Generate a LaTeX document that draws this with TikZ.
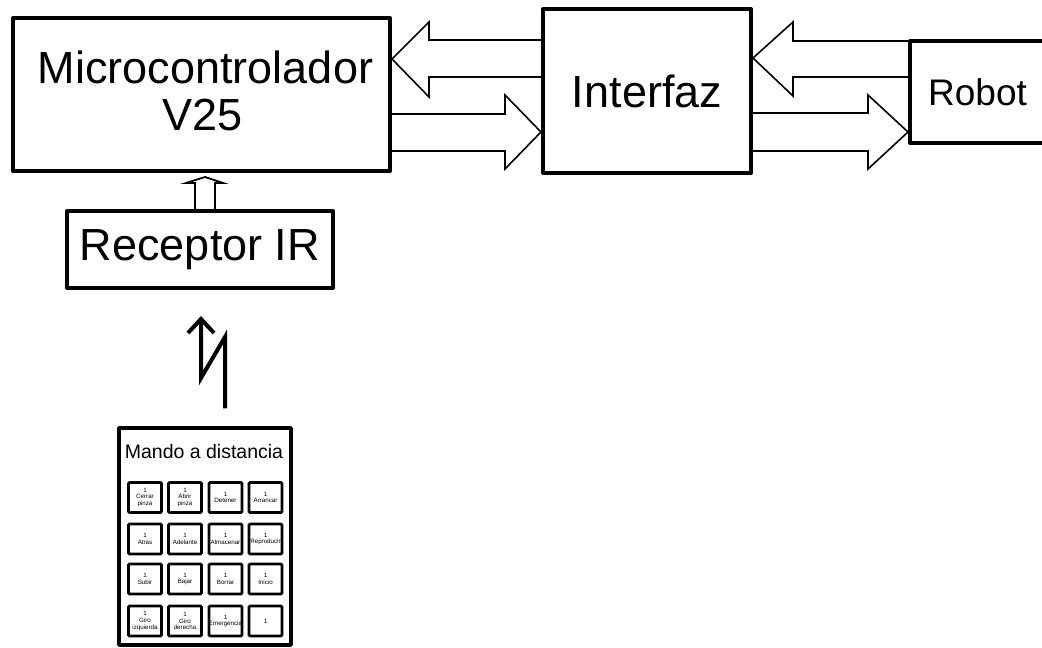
\documentclass[tikz,border=0pt]{standalone}
\usepackage{fontspec}
\setmainfont{Liberation Sans}
\usetikzlibrary{calc}
\begin{document}
\begin{tikzpicture}[x=1pt,y=-1pt,
  box/.style={draw, line width=4pt, line join=round, inner sep=0pt, align=center, font=\fontsize{45}{47}\selectfont},
  blk/.style={draw, line width=1.6pt, line join=miter},
  key/.style={draw, line width=2.8pt, rounded corners=1.2pt, minimum width=33pt, minimum height=30pt, inner sep=0pt, align=center, font=\fontsize{6.2}{6.6}\selectfont},
  bolt/.style={draw, line width=4pt, line join=miter}]
\clip (0,0) rectangle (1042,648);
% main blocks
\node[box, minimum width=377pt, minimum height=153pt] (mc) at (201.5,94.5) {};
\node[anchor=base, inner sep=0pt, font=\fontsize{45}{47}\selectfont] at ($(mc.center)+(4,-11)$) {Microcontrolador};
\node[anchor=base, inner sep=0pt, font=\fontsize{45}{47}\selectfont] at ($(mc.center)+(1,36)$) {V25};
\node[box, minimum width=208pt, minimum height=164pt] (intf) at (647,91) {Interfaz};
\node[box, minimum width=135pt, minimum height=102pt, font=\fontsize{37}{40}\selectfont] (robot) at (977.5,92) {Robot};
\node[box, minimum width=266pt, minimum height=77pt] (rec) at (200,249.5) {Receptor IR};
% block arrows Micro <-> Interfaz
\draw[blk] (intf.west |- 0,40) -- (429,40) -- (429,22) -- (mc.east |- 0,59) -- (429,97) -- (429,77) -- (intf.west |- 0,77);
\draw[blk] (mc.east |- 0,114) -- (505,114) -- (505,95) -- (intf.west |- 0,132) -- (505,169) -- (505,151) -- (mc.east |- 0,151);
% block arrows Interfaz <-> Robot
\draw[blk] (robot.west |- 0,41) -- (793,41) -- (793,22) -- (intf.east |- 0,58) -- (793,96) -- (793,77) -- (robot.west |- 0,77);
\draw[blk] (intf.east |- 0,113) -- (868,113) -- (868,95) -- (robot.west |- 0,132) -- (868,169) -- (868,151) -- (intf.east |- 0,151);
% small arrow Receptor -> Micro
\coordinate (st) at ($(mc.south -| 205,0)+(0,4)$);
\draw[line width=1.8pt, line join=miter] (rec.north -| 195,0) -- (195,183) -- (186,183) -- (st) -- (223,183) -- (215,183) -- (rec.north -| 215,0);
% keypad
\node[draw, line width=3.5pt, line join=round, minimum width=172pt, minimum height=217pt, inner sep=0pt] (kp) at (205,536.5) {};
\node[anchor=base, inner sep=0pt, font=\fontsize{19.5}{20}\selectfont] (kpt) at (204,458) {Mando a distancia};
\node[key] (k11) at (145,497.5) {1\\Cerrar\\pinza};
\node[key] (k12) at (185,497.5) {1\\Abrir\\pinza};
\node[key] (k13) at (225.5,497.5) {1\\Detener};
\node[key] (k14) at (265.5,497.5) {1\\Arrancar};
\node[key] (k21) at (145,539) {1\\Atras};
\node[key] (k22) at (185,539) {1\\Adelante};
\node[key] (k23) at (225.5,539) {1\\Almacenar};
\node[key] (k24) at (265.5,539) {1\\Reproducir};
\node[key] (k31) at (145,579) {1\\Subir};
\node[key] (k32) at (185,579) {1\\Bajar};
\node[key] (k33) at (225.5,579) {1\\Borrar};
\node[key] (k34) at (265.5,579) {1\\Inicio};
\node[key] (k41) at (145,621) {1\\Giro\\izquierda};
\node[key] (k42) at (185,621) {1\\Giro\\derecha};
\node[key] (k43) at (225.5,621) {1\\Emergencia};
\node[key] (k44) at (265.5,621) {1};
% IR link (lightning arrow) from keypad towards receptor
\coordinate (zs) at ($(kp.north)+(20,-18)$);
\coordinate (ze) at ($(rec.south)+(1,29)$);
\draw[bolt] (zs) -- (zs |- 0,337) -- (ze |- 0,378) -- (ze);
\draw[line width=4pt, line join=miter] (188,333) -- (ze) -- (214,333);
\end{tikzpicture}
\end{document}
